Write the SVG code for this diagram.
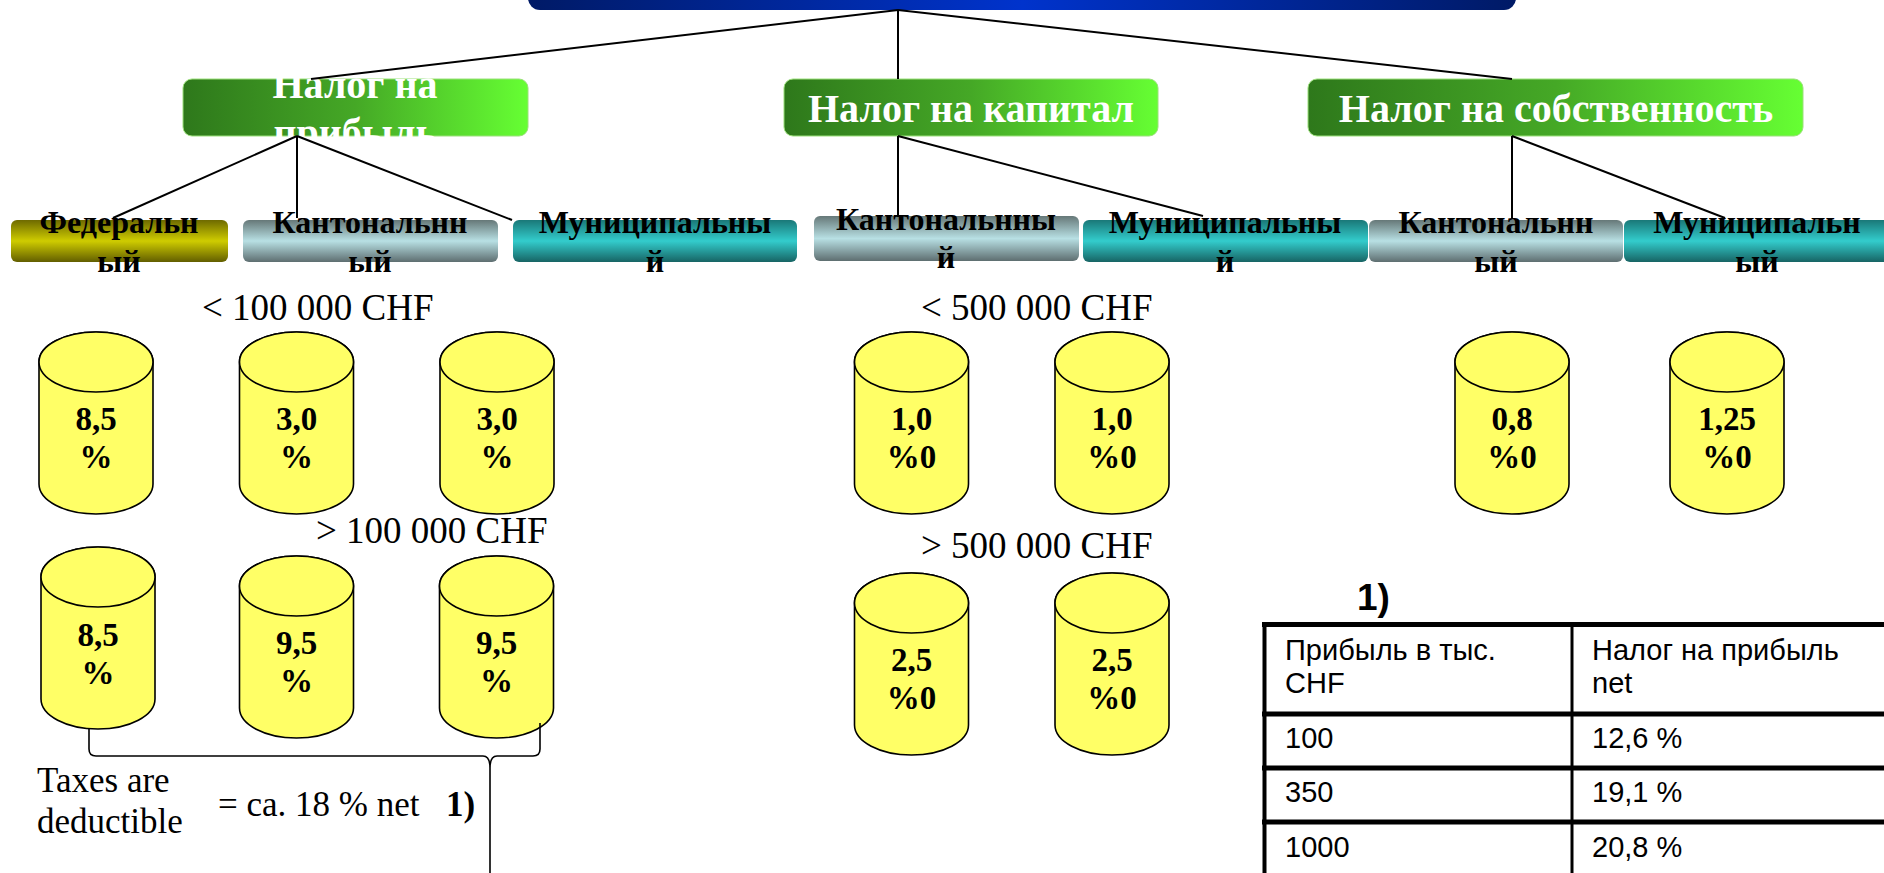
<svg xmlns="http://www.w3.org/2000/svg" xmlns:xlink="http://www.w3.org/1999/xlink" width="1884" height="873" viewBox="0 0 1884 873">
<defs>
<linearGradient id="gBlue" x1="0" y1="0" x2="1" y2="0">
<stop offset="0" stop-color="#001a66"/><stop offset="0.5" stop-color="#0033cc"/><stop offset="1" stop-color="#001a66"/>
</linearGradient>
<linearGradient id="gGreen" x1="0" y1="0" x2="1" y2="0">
<stop offset="0" stop-color="#2e781b"/><stop offset="0.5" stop-color="#45a826"/><stop offset="1" stop-color="#66ff33"/>
</linearGradient>
<linearGradient id="gOlive" x1="0" y1="0" x2="0" y2="1">
<stop offset="0" stop-color="#6e6a00"/><stop offset="0.5" stop-color="#cfcc00"/><stop offset="1" stop-color="#625e00"/>
</linearGradient>
<linearGradient id="gGray" x1="0" y1="0" x2="0" y2="1">
<stop offset="0" stop-color="#667878"/><stop offset="0.5" stop-color="#b8e0e4"/><stop offset="1" stop-color="#5e6e70"/>
</linearGradient>
<linearGradient id="gTeal" x1="0" y1="0" x2="0" y2="1">
<stop offset="0" stop-color="#1a7878"/><stop offset="0.5" stop-color="#33cccc"/><stop offset="1" stop-color="#176464"/>
</linearGradient>
<g id="cyl">
<path d="M-57,30 L-57,152 A57,30 0 0 0 57,152 L57,30 A57,30 0 0 0 -57,30 Z" class="cylbody"/>
<ellipse cx="0" cy="30" rx="57" ry="30" class="cylbody"/>
</g>
<style>
.cylbody{fill:#ffff66;stroke:#000;stroke-width:1.6}
.green{fill:url(#gGreen);stroke:#9be07a;stroke-width:1}
.gt{font-family:"Liberation Serif","Times New Roman",serif;font-weight:bold;font-size:40px;fill:#fff;text-anchor:middle}
.lt{font-family:"Liberation Serif","Times New Roman",serif;font-weight:bold;font-size:32px;fill:#000;text-anchor:middle}
.ct{font-family:"Liberation Serif","Times New Roman",serif;font-weight:bold;font-size:33px;fill:#000;text-anchor:middle}
.lab{font-family:"Liberation Serif","Times New Roman",serif;font-size:37px;fill:#000}
.note{font-family:"Liberation Serif","Times New Roman",serif;font-size:35px;fill:#000}
.tt{font-family:"Liberation Sans",Arial,sans-serif;font-size:29px;fill:#000}
.conn line{stroke:#000;stroke-width:2}
</style>
</defs>
<rect width="1884" height="873" fill="#fff"/>

<g id="root"><rect x="528" y="-40" width="988" height="50" rx="12" fill="url(#gBlue)"/></g>

<g id="n-profit"><rect x="183" y="79" width="345" height="57" rx="9" class="green"/>
<text class="gt" x="355" y="98">Налог на</text><text class="gt" x="355" y="146">прибыль</text></g>
<g id="n-capital"><rect x="784" y="79" width="374" height="57" rx="9" class="green"/>
<text class="gt" x="971" y="122">Налог на капитал</text></g>
<g id="n-property"><rect x="1308" y="79" width="495" height="57" rx="9" class="green"/>
<text class="gt" x="1556" y="122">Налог на собственность</text></g>

<g id="n-fed"><rect x="11" y="220" width="217" height="42" rx="6" fill="url(#gOlive)"/>
<text class="lt" x="119" y="233">Федеральн</text><text class="lt" x="119" y="272">ый</text></g>
<g id="n-kant1"><rect x="243" y="220" width="255" height="42" rx="6" fill="url(#gGray)"/>
<text class="lt" x="370" y="233">Кантональнн</text><text class="lt" x="370" y="272">ый</text></g>
<g id="n-mun1"><rect x="513" y="220" width="284" height="42" rx="6" fill="url(#gTeal)"/>
<text class="lt" x="655" y="233">Муниципальны</text><text class="lt" x="655" y="272">й</text></g>
<g id="n-kant2"><rect x="814" y="216" width="265" height="45" rx="6" fill="url(#gGray)"/>
<text class="lt" x="946" y="230">Кантональнны</text><text class="lt" x="946" y="268">й</text></g>
<g id="n-mun2"><rect x="1083" y="220" width="285" height="42" rx="6" fill="url(#gTeal)"/>
<text class="lt" x="1225" y="233">Муниципальны</text><text class="lt" x="1225" y="272">й</text></g>
<g id="n-kant3"><rect x="1369" y="220" width="254" height="42" rx="6" fill="url(#gGray)"/>
<text class="lt" x="1496" y="233">Кантональнн</text><text class="lt" x="1496" y="272">ый</text></g>
<g id="n-mun3"><rect x="1624" y="220" width="266" height="42" rx="6" fill="url(#gTeal)"/>
<text class="lt" x="1757" y="233">Муниципальн</text><text class="lt" x="1757" y="272">ый</text></g>

<g id="labels">
<text class="lab" x="202" y="320">&lt; 100 000 CHF</text>
<text class="lab" x="316" y="543">&gt; 100 000 CHF</text>
<text class="lab" x="921" y="320">&lt; 500 000 CHF</text>
<text class="lab" x="921" y="558">&gt; 500 000 CHF</text>
</g>

<g id="c-p1"><use xlink:href="#cyl" transform="translate(96,332)"/><text class="ct" x="96" y="430">8,5</text><text class="ct" x="96" y="468">%</text></g>
<g id="c-p2"><use xlink:href="#cyl" transform="translate(296.5,332)"/><text class="ct" x="296.5" y="430">3,0</text><text class="ct" x="296.5" y="468">%</text></g>
<g id="c-p3"><use xlink:href="#cyl" transform="translate(497,332)"/><text class="ct" x="497" y="430">3,0</text><text class="ct" x="497" y="468">%</text></g>
<g id="c-p4"><use xlink:href="#cyl" transform="translate(98,547)"/><text class="ct" x="98" y="646">8,5</text><text class="ct" x="98" y="684">%</text></g>
<g id="c-p5"><use xlink:href="#cyl" transform="translate(296.5,556)"/><text class="ct" x="296.5" y="654">9,5</text><text class="ct" x="296.5" y="692">%</text></g>
<g id="c-p6"><use xlink:href="#cyl" transform="translate(496.5,556)"/><text class="ct" x="496.5" y="654">9,5</text><text class="ct" x="496.5" y="692">%</text></g>
<g id="c-k1"><use xlink:href="#cyl" transform="translate(911.5,332)"/><text class="ct" x="911.5" y="430">1,0</text><text class="ct" x="911.5" y="468">%0</text></g>
<g id="c-k2"><use xlink:href="#cyl" transform="translate(1112,332)"/><text class="ct" x="1112" y="430">1,0</text><text class="ct" x="1112" y="468">%0</text></g>
<g id="c-k3"><use xlink:href="#cyl" transform="translate(911.5,573)"/><text class="ct" x="911.5" y="671">2,5</text><text class="ct" x="911.5" y="709">%0</text></g>
<g id="c-k4"><use xlink:href="#cyl" transform="translate(1112,573)"/><text class="ct" x="1112" y="671">2,5</text><text class="ct" x="1112" y="709">%0</text></g>
<g id="c-s1"><use xlink:href="#cyl" transform="translate(1512,332)"/><text class="ct" x="1512" y="430">0,8</text><text class="ct" x="1512" y="468">%0</text></g>
<g id="c-s2"><use xlink:href="#cyl" transform="translate(1727,332)"/><text class="ct" x="1727" y="430">1,25</text><text class="ct" x="1727" y="468">%0</text></g>

<g id="brace">
<path d="M89,729 L89,749 Q89,756 96,756 L483,756 Q490,756 490,768 L490,873 M490,768 Q490,756 497,756 L533,756 Q540,756 540,749 L540,723" fill="none" stroke="#000" stroke-width="1.6"/>
<text class="note" x="37" y="792">Taxes are</text>
<text class="note" x="37" y="833">deductible</text>
<text class="note" x="218" y="816">= ca. 18 % net</text>
<text class="note" x="446" y="816" font-weight="bold">1)</text>
</g>

<g id="table">
<text x="1357" y="610" font-family="'Liberation Sans',Arial,sans-serif" font-weight="bold" font-size="37">1)</text>
<g stroke="#000">
<line x1="1262" y1="624.5" x2="1884" y2="624.5" stroke-width="5"/>
<line x1="1264.5" y1="622" x2="1264.5" y2="873" stroke-width="4"/>
<line x1="1572" y1="624" x2="1572" y2="873" stroke-width="3"/>
<line x1="1262" y1="714" x2="1884" y2="714" stroke-width="5"/>
<line x1="1262" y1="768" x2="1884" y2="768" stroke-width="5"/>
<line x1="1262" y1="822" x2="1884" y2="822" stroke-width="5"/>
</g>
<text class="tt" x="1285" y="660">Прибыль в тыс.</text>
<text class="tt" x="1285" y="693">CHF</text>
<text class="tt" x="1592" y="660">Налог на прибыль</text>
<text class="tt" x="1592" y="693">net</text>
<text class="tt" x="1285" y="748">100</text>
<text class="tt" x="1592" y="748">12,6 %</text>
<text class="tt" x="1285" y="802">350</text>
<text class="tt" x="1592" y="802">19,1 %</text>
<text class="tt" x="1285" y="857">1000</text>
<text class="tt" x="1592" y="857">20,8 %</text>
</g>

<g id="connectors" class="conn">
<line x1="898" y1="10" x2="311" y2="79"/>
<line x1="898" y1="10" x2="898" y2="79"/>
<line x1="898" y1="10" x2="1512" y2="79"/>
<line x1="297" y1="136" x2="113" y2="218"/>
<line x1="297" y1="136" x2="297" y2="218"/>
<line x1="297" y1="136" x2="512" y2="220"/>
<line x1="898" y1="136" x2="898" y2="217"/>
<line x1="898" y1="136" x2="1203" y2="216"/>
<line x1="1512" y1="136" x2="1512" y2="218"/>
<line x1="1512" y1="136" x2="1725" y2="218"/>
</g>
</svg>
